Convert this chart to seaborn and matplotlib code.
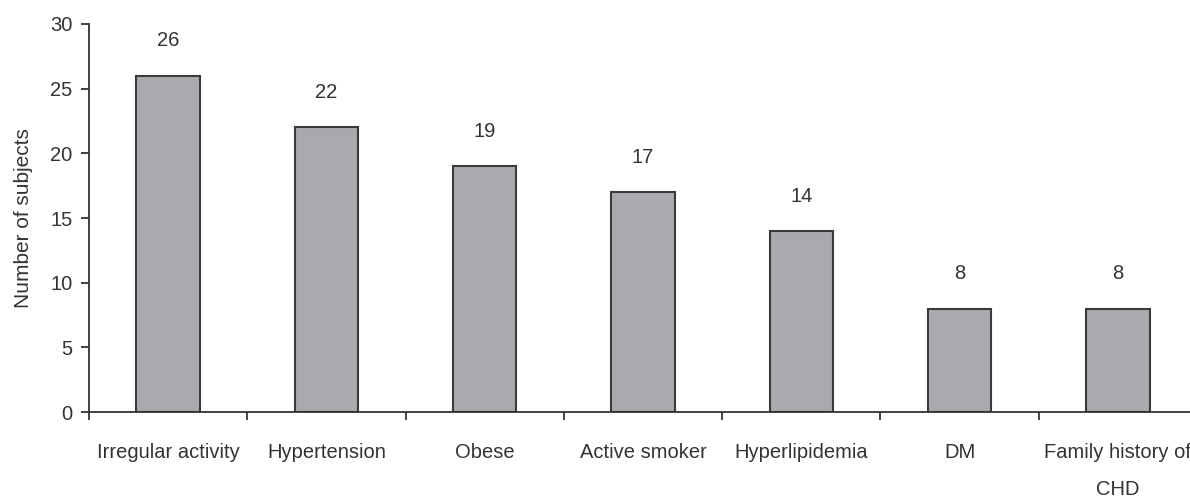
import matplotlib
matplotlib.use("Agg")
import matplotlib.pyplot as plt
import seaborn as sns
import pandas as pd

categories = ["Irregular activity", "Hypertension", "Obese", "Active smoker",
              "Hyperlipidemia", "DM", "Family history of\nCHD"]
counts = [26, 22, 19, 17, 14, 8, 8]
y_ticks = [0, 5, 10, 15, 20, 25, 30]

sns.set_theme(style="ticks")
plt.rcParams["font.family"] = ["Liberation Sans Narrow", "Liberation Sans", "DejaVu Sans"]

df = pd.DataFrame({"factor": categories, "n": counts})

W, H = 1190, 498
FS = 14.5
fig = plt.figure(figsize=(W / 100, H / 100), dpi=100)
ax = fig.add_axes([89 / W, 86 / H, (1197 - 89) / W, (412 - 24) / H])

sns.barplot(data=df, x="factor", y="n", ax=ax, color="#a9aaae",
            edgecolor="#3a3a3a", linewidth=1.5, width=0.40, saturation=1)

for i, v in enumerate(counts):
    ax.text(i, v + 2.7, str(v), ha="center", va="center",
            fontsize=FS, color="#333333")

ax.set_xlim(-0.5, 6.5)
ax.set_ylim(0, 30)
ax.set_yticks(y_ticks)
ax.set_xticks([i + 0.5 for i in range(-1, 7)], minor=True)
ax.tick_params(axis="x", which="major", length=0, pad=22, labelsize=FS,
               labelcolor="#333333")
ax.tick_params(axis="x", which="minor", length=6, width=1.3, color="#333333")
ax.tick_params(axis="y", length=6, width=1.3, color="#333333", labelsize=FS,
               labelcolor="#333333", pad=6)
for lbl in ax.get_xticklabels():
    lbl.set_linespacing(2.2)
    lbl.set_va("top")

ax.set_xlabel("")
ax.set_ylabel("Number of subjects", fontsize=FS + 0.5, color="#333333", labelpad=12)

for side in ["top", "right"]:
    ax.spines[side].set_visible(False)
for side in ["left", "bottom"]:
    ax.spines[side].set_color("#333333")
    ax.spines[side].set_linewidth(1.3)

fig.savefig("out.png", dpi=100, facecolor="white")
